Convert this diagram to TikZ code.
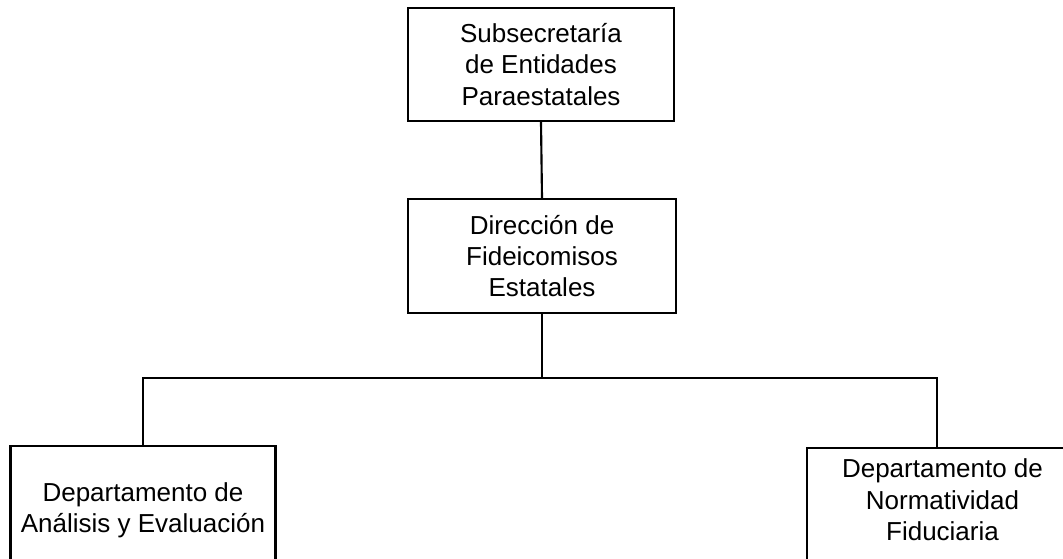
\documentclass[tikz,border=0pt]{standalone}
\usepackage{fontspec}
\setmainfont{Liberation Sans}
\begin{document}
\begin{tikzpicture}[x=0.75pt,y=-0.75pt,
  orgbox/.style={draw,line width=1.6pt,inner sep=0pt,align=center,
    font=\fontsize{19.5}{23.5}\selectfont},
  boxtext/.style={inner sep=0pt,align=center,font=\fontsize{19.5}{23.5}\selectfont},
  link/.style={line width=1.6pt}]
\useasboundingbox (0,0) rectangle (1063,558);
\clip (0,0) rectangle (1063,558);
\fill[white] (0,0) rectangle (1063,558);
\node[orgbox,minimum width=266*0.75pt,minimum height=113*0.75pt] (top) at (541,64.5)
  {Subsecretaría\\ de Entidades\\Paraestatales};
\node[orgbox,minimum width=268*0.75pt,minimum height=114*0.75pt] (mid) at (542,256)
  {Dirección de\\Fideicomisos\\Estatales};
\node[orgbox,minimum width=265*0.75pt,minimum height=128*0.75pt] (left) at (143,510)
  {Departamento de\\Análisis y Evaluación};
\node[orgbox,anchor=north west,minimum width=400*0.75pt,minimum height=160*0.75pt] (right) at (806,447) {};
\node[boxtext] (righttext) at (942.5,500)
  {Departamento de\\Normatividad\\Fiduciaria};
\coordinate (bar) at (542,378);
\coordinate (rtop) at (937,447);
\draw[link] (top.south) -- (mid.north);
\draw[link] (mid.south) -- (bar);
\draw[link] (left.north) |- (bar) -| (rtop);
\end{tikzpicture}
\end{document}
